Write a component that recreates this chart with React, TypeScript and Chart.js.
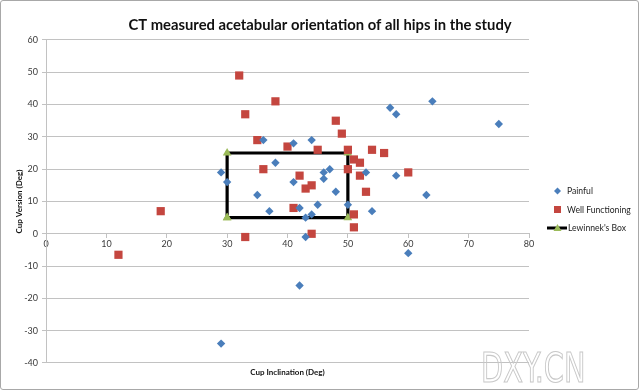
import React, { useEffect, useRef } from 'react';
import { Chart, registerables } from 'chart.js';

Chart.register(...registerables);

const TITLE = 'CT measured acetabular orientation of all hips in the study';
const X_TITLE = 'Cup Inclination (Deg)';
const Y_TITLE = 'Cup Version (Deg)';
const WATERMARK = 'DXY.CN';

const X_MIN = 0;
const X_MAX = 80;
const X_STEP = 10;
const Y_MIN = -40;
const Y_MAX = 60;
const Y_STEP = 10;

const SERIES_LABELS = ['Painful', 'Well Functioning', "Lewinnek's Box"];

const painfulInclination = [29, 30, 29, 36, 41, 44, 38, 35, 37, 41, 46, 47, 46, 48, 42, 45, 44, 43, 50, 43, 53, 54, 58, 57, 58, 64, 75, 63, 42, 60];
const painfulVersion = [19, 16, -34, 29, 28, 29, 22, 12, 7, 16, 19, 20, 17, 13, 8, 9, 6, 5, 9, -1, 19, 7, 18, 39, 37, 41, 34, 12, -16, -6];

const wellInclination = [32, 38, 33, 35, 40, 45, 48, 49, 50, 51, 52, 36, 42, 43, 44, 41, 51, 51, 33, 44, 50, 52, 53, 54, 56, 60, 12, 19];
const wellVersion = [49, 41, 37, 29, 27, 26, 35, 31, 26, 23, 22, 20, 18, 14, 15, 8, 6, 2, -1, 0, 20, 18, 13, 26, 25, 19, -6.5, 7];

const boxInclination = [30, 30, 50, 50, 30];
const boxVersion = [5, 25, 25, 5, 5];

const BLUE = '#4A7EBB';
const RED = '#C4463F';
const GREEN = '#9BBB59';
const GRID = '#C2C2C2';
const TEXT = '#3A3A3A';

const toPoints = (xs: number[], ys: number[]) => xs.map((x, i) => ({ x, y: ys[i] }));

const legendPlugin = {
  id: 'excelLegend',
  afterDraw(chart: any) {
    const ctx = chart.ctx as CanvasRenderingContext2D;
    const ds = chart.data.datasets;
    const mx = 557.5;
    const tx = 567;
    const ys = [191, 209.5, 228];
    ctx.save();
    ctx.font = '8.6px Lato';
    ctx.textBaseline = 'middle';
    ctx.textAlign = 'left';
    // Painful
    ctx.fillStyle = ds[0].backgroundColor;
    ctx.beginPath();
    ctx.moveTo(mx - 3.5, ys[0]);
    ctx.lineTo(mx, ys[0] - 3.5);
    ctx.lineTo(mx + 3.5, ys[0]);
    ctx.lineTo(mx, ys[0] + 3.5);
    ctx.closePath();
    ctx.fill();
    // Well functioning
    ctx.fillStyle = ds[1].backgroundColor;
    ctx.fillRect(mx - 3.5, ys[1] - 3.5, 7, 7);
    // Lewinnek's box
    ctx.strokeStyle = ds[2].borderColor;
    ctx.lineWidth = 3;
    ctx.beginPath();
    ctx.moveTo(547, ys[2]);
    ctx.lineTo(567, ys[2]);
    ctx.stroke();
    ctx.fillStyle = ds[2].pointBackgroundColor;
    ctx.beginPath();
    ctx.moveTo(mx, ys[2] - 4);
    ctx.lineTo(mx + 4, ys[2] + 3);
    ctx.lineTo(mx - 4, ys[2] + 3);
    ctx.closePath();
    ctx.fill();
    ctx.fillStyle = '#222';
    for (let i = 0; i < 3; i++) {
      ctx.fillText(ds[i].label, tx + (i === 2 ? 1 : 0), ys[i] + 0.5);
    }
    ctx.restore();
  },
};

const watermarkPlugin = {
  id: 'watermark',
  afterDraw(chart: any) {
    const ctx = chart.ctx as CanvasRenderingContext2D;
    ctx.save();
    ctx.translate(481, 382);
    ctx.scale(0.72, 1);
    ctx.font = '40px "DejaVu Sans"';
    ctx.textBaseline = 'alphabetic';
    ctx.strokeStyle = '#C8C8C8';
    ctx.lineWidth = 1.2;
    ctx.strokeText(WATERMARK, 0, 0);
    ctx.restore();
  },
};

export default function App() {
  const ref = useRef<HTMLCanvasElement | null>(null);

  useEffect(() => {
    if (!ref.current) return;
    const chart = new Chart(ref.current, {
      type: 'scatter',
      data: {
        datasets: [
          {
            label: SERIES_LABELS[0],
            data: toPoints(painfulInclination, painfulVersion),
            backgroundColor: BLUE,
            borderColor: BLUE,
            pointStyle: 'rectRot',
            pointRadius: 4.2,
            pointHoverRadius: 4.2,
            borderWidth: 0,
          },
          {
            label: SERIES_LABELS[1],
            data: toPoints(wellInclination, wellVersion),
            backgroundColor: RED,
            borderColor: RED,
            pointStyle: 'rect',
            pointRadius: 5.8,
            pointHoverRadius: 5.8,
            borderWidth: 0,
          },
          {
            label: SERIES_LABELS[2],
            data: toPoints(boxInclination, boxVersion),
            showLine: true,
            borderColor: '#000000',
            backgroundColor: GREEN,
            borderWidth: 3.2,
            pointStyle: 'triangle',
            pointRadius: 5,
            pointHoverRadius: 5,
            pointBackgroundColor: GREEN,
            pointBorderColor: GREEN,
            pointBorderWidth: 0,
          } as any,
        ],
      },
      options: {
        responsive: false,
        animation: false,
        events: [],
        layout: { padding: 0 },
        plugins: {
          legend: { display: false },
          tooltip: { enabled: false },
          title: {
            display: true,
            text: TITLE,
            color: '#111',
            font: { family: 'Lato', size: 14.8, weight: 'bold' },
            padding: { top: 16.5, bottom: 5.7 },
          },
        },
        scales: {
          x: {
            type: 'linear',
            position: { y: 0 } as any,
            min: X_MIN,
            max: X_MAX,
            ticks: { stepSize: X_STEP, color: TEXT, font: { family: 'Lato', size: 9 }, padding: 1, maxRotation: 0, autoSkip: false },
            grid: { drawOnChartArea: false, drawTicks: true, tickLength: 4, color: GRID },
            border: { display: true, color: GRID, width: 1 },
            afterFit: (s: any) => { s.height = 0; },
          },
          xTitle: {
            type: 'linear',
            position: 'bottom',
            display: true,
            ticks: { display: false },
            grid: { display: false, drawTicks: false },
            border: { display: false },
            title: {
              display: true,
              text: X_TITLE,
              color: '#111',
              font: { family: 'Lato', size: 8, weight: 'bold' },
              padding: { top: 0, bottom: 14 },
            },
            afterFit: (s: any) => { s.height = 28; },
          },
          y: {
            type: 'linear',
            position: 'left',
            min: Y_MIN,
            max: Y_MAX,
            ticks: { stepSize: Y_STEP, color: TEXT, font: { family: 'Lato', size: 9 }, padding: 4 },
            grid: { color: GRID, lineWidth: 1, tickLength: 4, drawTicks: true },
            border: { display: true, color: GRID, width: 1 },
            title: {
              display: true,
              text: Y_TITLE,
              color: '#111',
              font: { family: 'Lato', size: 8, weight: 'bold' },
              padding: { top: 14.5, bottom: 0 },
            },
            afterFit: (s: any) => { s.width = 46; },
          },
          yRight: {
            type: 'linear',
            position: 'right',
            display: true,
            ticks: { display: false },
            grid: { display: false, drawTicks: false },
            border: { display: false },
            afterFit: (s: any) => { s.width = 111; },
          },
        },
      } as any,
      plugins: [legendPlugin, watermarkPlugin],
    });
    return () => chart.destroy();
  }, []);

  return (
    <div style={{ position: 'absolute', left: 0, top: 0, width: 640, height: 391, background: '#fff' }}>
      <canvas ref={ref} width={640} height={391} style={{ display: 'block' }} />
      <div
        style={{
          position: 'absolute',
          left: 0,
          top: 0,
          width: 639,
          height: 390,
          boxSizing: 'border-box',
          border: '1.5px solid #A8A8A8',
          borderRadius: 3,
          pointerEvents: 'none',
        }}
      />
    </div>
  );
}
